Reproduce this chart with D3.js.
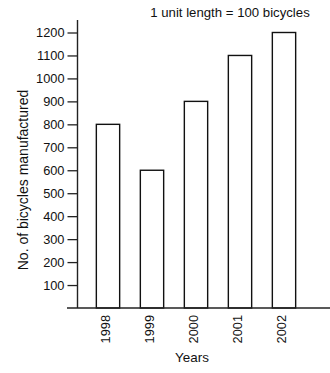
<!DOCTYPE html>
<html><head><meta charset="utf-8">
<script src="https://cdn.jsdelivr.net/npm/d3@7"></script>
<style>body{margin:0;background:#fff}svg{display:block}text{font-family:"Liberation Sans",Arial,sans-serif;fill:#111}</style>
</head><body>
<svg id="c" width="330" height="373"></svg>
<script>
const years = ["1998","1999","2000","2001","2002"];
const bicycles = [800, 600, 900, 1100, 1200];
const yTicks = [100,200,300,400,500,600,700,800,900,1000,1100,1200];
const titleText = "1 unit length = 100 bicycles";
const xTitle = "Years";
const yTitle = "No. of bicycles manufactured";

const svg = d3.select("#c");
const x = d3.scaleBand().domain(years).range([86, 306]).paddingInner(0.47).paddingOuter(0.235);
const y = d3.scaleLinear().domain([0, 1200]).range([308, 32.5]);
const axisX = 77.5;

// Title
svg.append("text").attr("x", 230).attr("y", 17).attr("text-anchor", "middle")
  .style("font-size", "13.2px").text(titleText);

// Bars
svg.selectAll("rect.bar").data(years).join("rect").attr("class","bar")
  .attr("x", d => x(d)).attr("width", x.bandwidth())
  .attr("y", (d,i) => y(bicycles[i])).attr("height", (d,i) => y(0) - y(bicycles[i]))
  .attr("fill", "#fff").attr("stroke", "#111").attr("stroke-width", 1.4);

// Y axis
const yAxis = d3.axisLeft(y).tickValues(yTicks).tickSize(10).tickPadding(3).tickFormat(d3.format("d"));
const gy = svg.append("g").attr("transform", `translate(${axisX},0)`).call(yAxis);
gy.select(".domain").remove();
gy.selectAll(".tick line").attr("stroke", "#222").attr("stroke-width", 1.3);
gy.selectAll(".tick text").style("font-size", "12.8px").style("font-family", '"Liberation Sans",Arial,sans-serif').attr("fill", "#111");
svg.append("line").attr("x1", axisX).attr("x2", axisX).attr("y1", 20).attr("y2", y(0))
  .attr("stroke", "#222").attr("stroke-width", 1.4);

// X axis baseline
svg.append("line").attr("x1", 67).attr("x2", 330).attr("y1", y(0)).attr("y2", y(0))
  .attr("stroke", "#222").attr("stroke-width", 1.4);

// X tick labels (rotated)
const xAxis = d3.axisBottom(x).tickSize(0).tickPadding(0);
const gx = svg.append("g").attr("transform", `translate(0,${y(0)})`).call(xAxis);
gx.select(".domain").remove();
gx.selectAll(".tick text")
  .attr("transform", "rotate(-90)")
  .attr("x", -7).attr("y", -2).attr("dy", "0.35em")
  .attr("text-anchor", "end")
  .style("font-size", "12.8px").style("font-family", '"Liberation Sans",Arial,sans-serif').attr("fill", "#111");

// Axis titles
svg.append("text").attr("x", 192).attr("y", 362).attr("text-anchor", "middle")
  .style("font-size", "13.4px").text(xTitle);
svg.append("text").attr("transform", "translate(28,180) rotate(-90)").attr("text-anchor", "middle")
  .style("font-size", "14px").text(yTitle);
</script>
</body></html>
